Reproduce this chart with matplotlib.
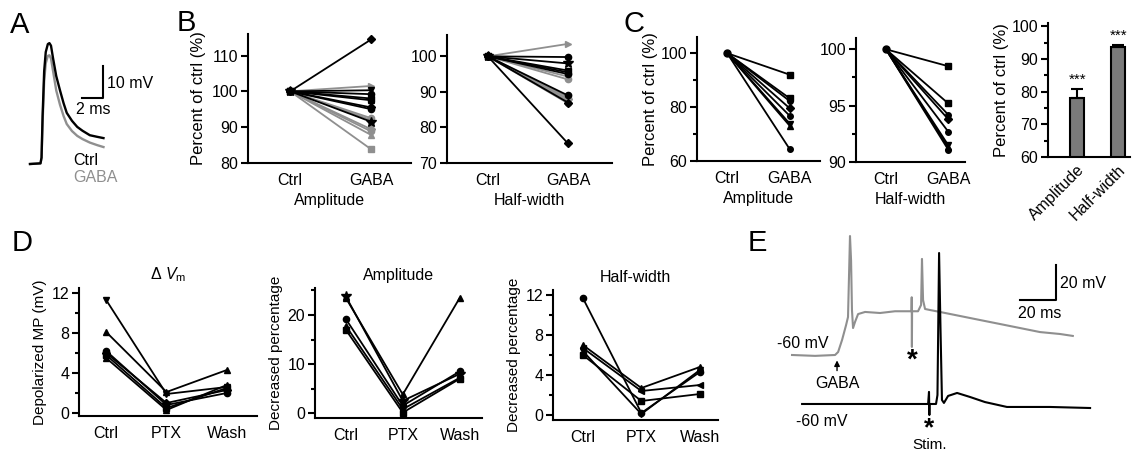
import numpy as np
import matplotlib
matplotlib.use("Agg")
from matplotlib import pyplot as plt

plt.rcParams["font.family"] = ["Liberation Sans", "DejaVu Sans"]
plt.rcParams["font.size"] = 11.5
plt.rcParams["axes.linewidth"] = 1.5
plt.rcParams["mathtext.fontset"] = "custom"
plt.rcParams["mathtext.rm"] = "Liberation Sans"
plt.rcParams["mathtext.it"] = "Liberation Sans:italic"

GRAY = "#8f8f8f"

# ---- A: spike waveform (ms, mV above baseline)
a_t = [0, 1.0, 1.1, 1.2, 1.35, 1.5, 1.7, 1.85, 2.0, 2.2, 2.5, 2.86, 3.2, 3.5, 4.0, 4.5, 5.0, 5.7, 6.4, 7.0]
a_ctrl = [0, 0.2, 2, 15, 29, 35, 37.5, 37.8, 37, 33, 27.5, 23, 19, 16, 13.5, 11.6, 10.4, 9.0, 8.5, 8.1]
a_gaba = [0, 0.2, 2, 13, 26, 31.5, 33.8, 34, 33, 29, 23, 18.5, 15, 12.5, 10.3, 8.8, 7.8, 6.7, 5.9, 5.3]

# ---- B: percent of ctrl after GABA
b_cond = ["Ctrl", "GABA"]
b_amp_black = [114.5, 100.3, 99.2, 98.0, 97.5, 95.5, 95.0, 91.5]
b_amp_black_mk = ["D", "v", "o", "s", "^", "D", "o", "*"]
b_amp_gray = [101.5, 92.5, 92.0, 89.4, 88.8, 87.8, 83.8]
b_amp_gray_mk = [">", "o", "^", "D", "o", "^", "s"]
b_hw_black = [99.8, 98.0, 96.0, 95.5, 95.0, 89.0, 87.0, 75.5]
b_hw_black_mk = ["o", "*", "s", "^", "o", "o", "D", "D"]
b_hw_gray = [103.5, 94.3, 93.5, 88.5, 88.0, 87.5, 86.8]
b_hw_gray_mk = [">", "^", "o", "s", "D", "^", "o"]

# ---- C
c_amp = [92.0, 83.2, 82.2, 79.5, 76.7, 73.8, 73.0, 64.3]
c_hw = [98.5, 95.2, 94.2, 93.8, 92.7, 91.5, 91.3, 91.1]
c_mk = ["s", "s", "o", "D", "o", "v", "^", "o"]
c_bar_labels = ["Amplitude", "Half-width"]
c_bar_means = [78.0, 93.6]
c_bar_sems = [2.8, 0.7]

# ---- D
d_cond = ["Ctrl", "PTX", "Wash"]
d_vm = [[11.3, 1.9, 2.6], [8.1, 2.1, 4.3], [6.2, 0.8, 2.0], [5.8, 0.5, 2.5], [5.5, 0.3, 2.8], [6.0, 1.0, 2.3]]
d_vm_mk = ["v", "^", "o", "s", "^", "D"]
d_amp = [[23.8, 2.5, 8.0], [23.5, 3.8, 23.5], [19.2, 1.5, 8.5], [17.8, 0.8, 7.2], [17.0, 0.1, 7.0]]
d_amp_mk = ["*", "^", "o", "^", "s"]
d_hw = [[11.7, 0.2, 4.3], [7.0, 2.7, 4.8], [6.7, 2.4, 3.0], [6.0, 1.4, 2.1], [6.4, 0.1, 4.5]]
d_hw_mk = ["o", "^", "<", "s", "v"]

# ---- E: traces (ms, mV relative to -60 mV)
e_gaba_t = [0, 12.8, 23.9, 25.6, 27.8, 30.0, 31.1, 32.2, 32.8, 33.3, 33.9, 35.0, 36.7, 40.6, 48.9, 57.2, 65.6,
            66.4, 66.5, 66.6, 66.7, 70.0, 71.7, 72.2, 72.8, 73.9, 76.7, 82.2, 93.3, 104.4, 115.6, 126.7, 137.8, 148.9, 156.0]
e_gaba_v = [0, -0.5, 0, 1.7, 8.6, 17, 21.7, 68, 54, 25.7, 15.4, 18.9, 23.4, 24.6, 24, 25, 25,
            25, 33, 4.6, 25, 25, 28.6, 54.9, 31.4, 26.3, 25.7, 24.6, 22.3, 20, 17.7, 15.4, 13.1, 12, 10.9]
e_stim_t = [5.6, 75.6, 76.1, 76.3, 76.4, 80.0, 80.8, 81.7, 82.5, 83.3, 84.4, 86.7, 91.7, 98.9, 107.2, 119.4, 143.3, 165.6]
e_stim_v = [0, 0, 6.9, -6.3, 0, 0, 5.1, 86.3, 42.3, 2.3, 0.6, 4.6, 6.3, 4.0, 1.1, -1.7, -1.7, -2.3]

W, H = 1134, 450
fig = plt.figure(figsize=[W / 100, H / 100], dpi=100)


def add_ax(l, t, r, b):
    ax = fig.add_axes([l / W, 1 - b / H, (r - l) / W, (b - t) / H])
    ax.patch.set_alpha(0)
    return ax


def ftext(x, y, s, **kw):
    kw.setdefault("ha", "center")
    kw.setdefault("va", "center")
    fig.text(x / W, 1 - y / H, s, **kw)


def style(ax):
    ax.spines[["top", "right"]].set_visible(False)
    ax.tick_params(axis="x", length=0, pad=7)
    ax.tick_params(axis="y", which="major", direction="out", length=5, width=1.5, pad=2)
    ax.tick_params(axis="y", which="minor", direction="out", length=3, width=1.5)


def ms_for(m):
    return 7 if m == "*" else 4.5


def pair(ax, vals, mks, color):
    for v, m in zip(vals, mks):
        ax.plot([0, 1], [100, v], color=color, lw=1.3, marker=m, ms=ms_for(m), mfc=color, mec=color)


# panel letters
for lab, x, y in [("A", 20, 25), ("B", 186, 23), ("C", 634, 24), ("D", 22, 243), ("E", 757, 243)]:
    ftext(x, y, lab, fontsize=21)

# A
ax = add_ax(25, 30, 125, 172)
ax.plot(a_t, a_gaba, color=GRAY, lw=1.7)
ax.plot(a_t, a_ctrl, color="k", lw=1.7)
ax.plot([4.95, 6.95, 6.95], [20.6, 20.6, 30.6], color="k", lw=1.5)
ax.set_xlim(-0.476, 9.05)
ax.set_ylim(-2.5, 41.9)
ax.axis("off")
ftext(107, 83, "10 mV", ha="left")
ftext(93, 110, "2 ms")
ftext(73, 160, "Ctrl", ha="left")
ftext(73, 178, "GABA", ha="left", color=GRAY)

# B amplitude
ax = add_ax(248, 34, 411, 163)
pair(ax, b_amp_gray, b_amp_gray_mk, GRAY)
pair(ax, b_amp_black, b_amp_black_mk, "k")
style(ax)
ax.set_xlim(-0.52, 1.49)
ax.set_ylim(80, 116)
ax.set_yticks([80, 90, 100, 110])
ax.set_xticks([0, 1], b_cond)
ax.set_xlabel("Amplitude", labelpad=4)
ax.set_ylabel("Percent of ctrl (%)", fontsize=12, labelpad=4)

# B half-width
ax = add_ax(447, 35, 612, 163)
pair(ax, b_hw_gray, b_hw_gray_mk, GRAY)
pair(ax, b_hw_black, b_hw_black_mk, "k")
style(ax)
ax.set_xlim(-0.51, 1.55)
ax.set_ylim(70, 106)
ax.set_yticks([70, 80, 90, 100])
ax.set_xticks([0, 1], b_cond)
ax.set_xlabel("Half-width", labelpad=4)

# C amplitude
ax = add_ax(697, 37, 820, 161)
for v, m in zip(c_amp, c_mk):
    ax.plot([0, 1], [100, v], color="k", lw=1.3, marker=m, ms=4, markevery=[1])
ax.plot([0], [100], "ko", ms=5)
style(ax)
ax.set_xlim(-0.48, 1.48)
ax.set_ylim(60, 106)
ax.set_yticks([60, 80, 100])
ax.set_yticks([70, 90], minor=True)
ax.set_xticks([0, 1], b_cond)
ax.set_xlabel("Amplitude", labelpad=4)
ax.set_ylabel("Percent of ctrl (%)", fontsize=12, labelpad=2)

# C half-width
ax = add_ax(856, 38, 965, 162)
for v, m in zip(c_hw, c_mk):
    ax.plot([0, 1], [100, v], color="k", lw=1.3, marker=m, ms=4, markevery=[1])
ax.plot([0], [100], "ko", ms=5)
style(ax)
ax.set_xlim(-0.48, 1.27)
ax.set_ylim(90, 101)
ax.set_yticks([90, 95, 100])
ax.set_yticks([92.5, 97.5], minor=True)
ax.set_xticks([0, 1], b_cond)
ax.set_xlabel("Half-width", labelpad=4)

# C bars
ax = add_ax(1048, 23, 1130, 157)
xb = np.arange(len(c_bar_means))
ax.bar(xb, c_bar_means, width=0.34, color="#7a7a7a", edgecolor="k", linewidth=1.5)
ax.errorbar(xb, c_bar_means, yerr=[[0, 0], c_bar_sems], fmt="none", ecolor="k", elinewidth=1.5, capsize=4, capthick=1.5)
for x, m, s in zip(xb, c_bar_means, c_bar_sems):
    ax.text(x, m + s + 0.8, "***", ha="center", va="bottom", fontsize=11)
style(ax)
ax.set_xlim(-0.71, 1.29)
ax.set_ylim(60, 101)
ax.set_yticks([60, 70, 80, 90, 100])
ax.set_yticks([65, 75, 85, 95], minor=True)
ax.set_xticks(xb, c_bar_labels, rotation=45, ha="right", rotation_mode="anchor")
ax.tick_params(axis="x", pad=4)
ax.set_ylabel("Percent of ctrl (%)", fontsize=12, labelpad=2)


# D
def dpanel(box, data, mks, xlim, ylim, ticks, minor, title, ylabel):
    ax = add_ax(*box)
    for row, m in zip(data, mks):
        ax.plot(range(3), row, color="k", lw=1.3, marker=m, ms=ms_for(m))
    style(ax)
    ax.set_xlim(*xlim)
    ax.set_ylim(*ylim)
    ax.set_yticks(ticks)
    ax.set_yticks(minor, minor=True)
    ax.set_xticks(range(3), d_cond)
    ax.set_title(title, fontsize=11.5, pad=6)
    ax.set_ylabel(ylabel, fontsize=11, labelpad=3)
    return ax


dpanel((79, 288, 257, 416), d_vm, d_vm_mk, (-0.45, 2.5), (-0.3, 12.5), [0, 4, 8, 12], [2, 6, 10],
       r"$\Delta\ V_\mathrm{m}$", "Depolarized MP (mV)")
dpanel((315, 288, 482, 418), d_amp, d_amp_mk, (-0.54, 2.39), (-1, 25.5), [0, 10, 20], [5, 15, 25],
       "Amplitude", "Decreased percentage")
dpanel((553, 290, 718, 420), d_hw, d_hw_mk, (-0.51, 2.31), (-0.5, 12.5), [0, 4, 8, 12], [2, 6, 10],
       "Half-width", "Decreased percentage")

# E
ax = add_ax(760, 225, 1134, 450)
ax.plot(e_gaba_t, e_gaba_v, color=GRAY, lw=1.5)
ax.plot(e_stim_t, np.array(e_stim_v) - 28, color="k", lw=1.5)
ax.plot([126.7, 146.7, 146.7], [31.4, 31.4, 51.4], color="k", lw=1.5)
ax.annotate("", xy=(25.0, -1.5), xytext=(25.0, -10.5),
            arrowprops=dict(arrowstyle="-|>", color="k", lw=1.0, mutation_scale=8))
ax.set_xlim(-17.8, 190)
ax.set_ylim(-54.3, 74.3)
ax.axis("off")
ftext(1060, 284, "20 mV", ha="left")
ftext(1040, 314, "20 ms")
ftext(803, 343, "-60 mV")
ftext(837, 383, "GABA")
ftext(912, 361, "*", fontsize=20, fontweight="bold")
ftext(822, 422, "-60 mV")
ftext(929, 428, "*", fontsize=19, fontweight="bold")
ftext(930, 445, "Stim.", fontsize=11)

fig.savefig("out.png", dpi=100)
